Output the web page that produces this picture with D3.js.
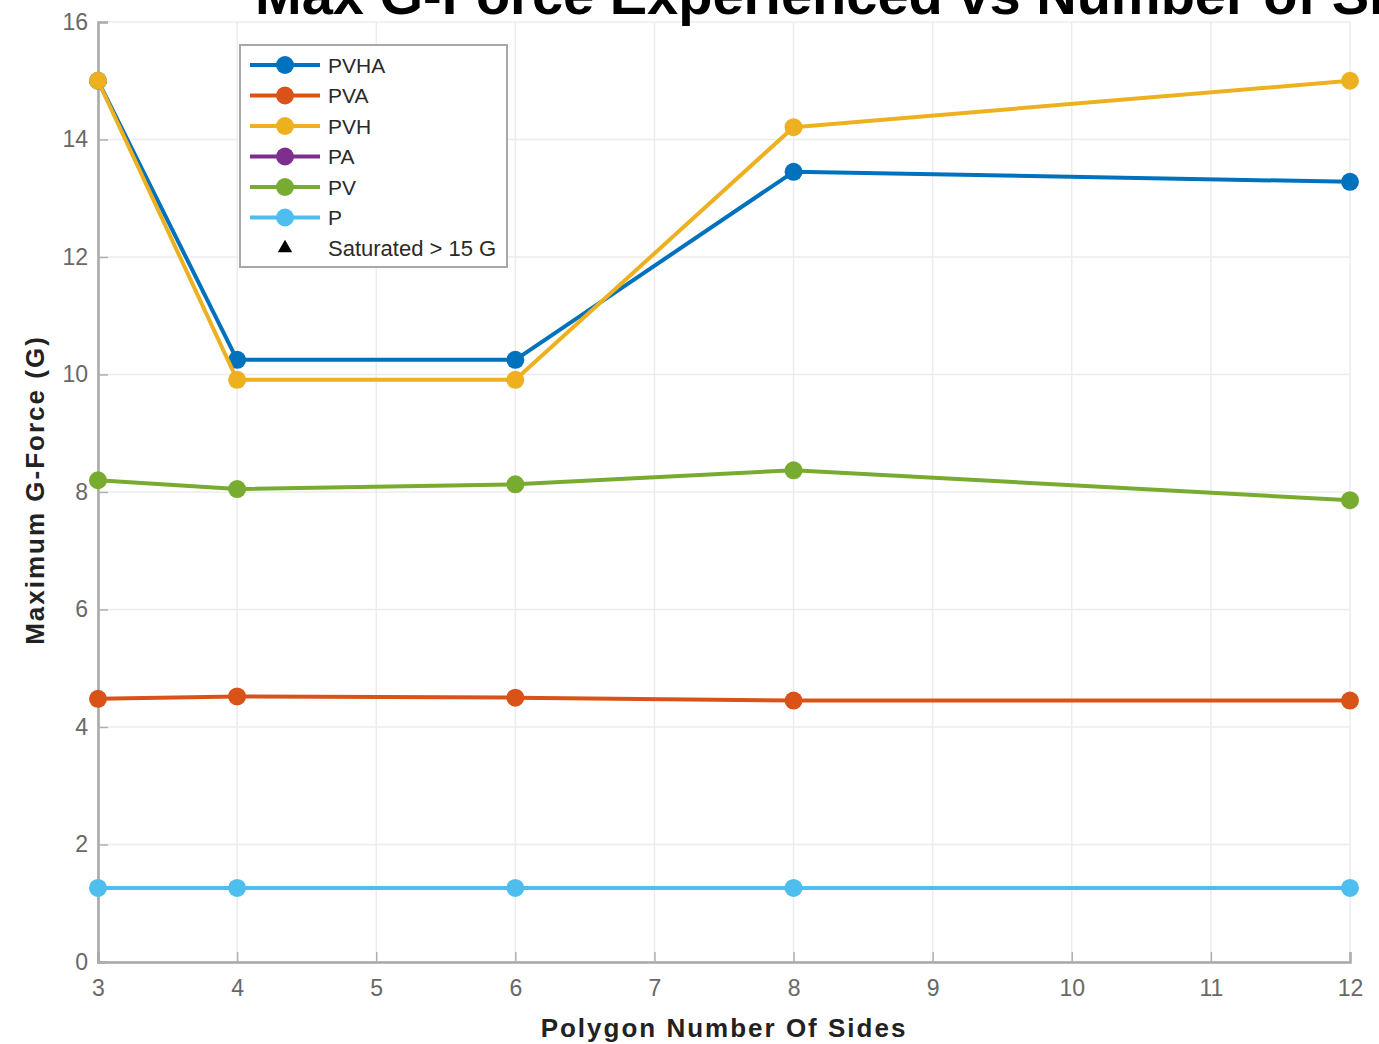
<!DOCTYPE html>
<html><head><meta charset="utf-8">
<script src="https://cdn.jsdelivr.net/npm/d3@7"></script>
<style>body{margin:0;background:#fff;} svg{display:block;}</style>
</head><body>
<svg id="chart" width="1379" height="1044"></svg>
<script>
const sides = [3, 4, 6, 8, 12];
const seriesNames = ["PVHA", "PVA", "PVH", "PA", "PV", "P"];
const seriesColors = ["#0072BD", "#D95319", "#EDB120", "#7E2F8E", "#77AC30", "#4DBEEE"];
const PVHA = [15.0, 10.25, 10.25, 13.45, 13.28];
const PVA  = [4.48, 4.52, 4.50, 4.45, 4.45];
const PVH  = [15.0, 9.91, 9.91, 14.21, 15.0];
const PA   = [];
const PV   = [8.20, 8.05, 8.13, 8.37, 7.86];
const P    = [1.26, 1.26, 1.26, 1.26, 1.26];
const seriesValues = [PVHA, PVA, PVH, PA, PV, P];
const xTicks = [3, 4, 5, 6, 7, 8, 9, 10, 11, 12];
const yTicks = [0, 2, 4, 6, 8, 10, 12, 14, 16];
const titleText = "Max G-Force Experienced vs Number of Sides";
const xLabel = "Polygon Number Of Sides";
const yLabel = "Maximum G-Force (G)";
const saturatedLabel = "Saturated > 15 G";

const svg = d3.select("#chart");
const m = {left: 98, right: 1379 - 1350, top: 22, bottom: 1044 - 962};
const W = 1379, H = 1044;
const x = d3.scaleLinear().domain([3, 12]).range([m.left, W - m.right]);
const y = d3.scaleLinear().domain([0, 16]).range([H - m.bottom, m.top]);

// grid
const grid = svg.append("g");
grid.selectAll("line.v").data(xTicks).join("line")
  .attr("x1", d => x(d)).attr("x2", d => x(d))
  .attr("y1", y(0)).attr("y2", y(16))
  .attr("stroke", "#ececec").attr("stroke-width", 1.5);
grid.selectAll("line.h").data(yTicks).join("line")
  .attr("y1", d => y(d)).attr("y2", d => y(d))
  .attr("x1", x(3)).attr("x2", x(12))
  .attr("stroke", "#ececec").attr("stroke-width", 1.5);

// axes
const xAxis = d3.axisBottom(x).tickValues(xTicks).tickSize(-10).tickPadding(18).tickFormat(d3.format("d"));
const yAxis = d3.axisLeft(y).tickValues(yTicks).tickSize(-10).tickPadding(10).tickFormat(d3.format("d"));
const gx = svg.append("g").attr("transform", `translate(0,${y(0)})`).call(xAxis);
const gy = svg.append("g").attr("transform", `translate(${x(3)},0)`).call(yAxis);
[gx, gy].forEach(g => {
  g.select(".domain").attr("stroke", "#a8a8a8").attr("stroke-width", 2.5);
  g.selectAll(".tick line").attr("stroke", "#b0b0b0").attr("stroke-width", 1.5);
  g.selectAll(".tick text").attr("fill", "#686868")
    .style("font-family", "'Liberation Sans', Arial, sans-serif").style("font-size", "23px");
});
gx.selectAll(".tick text").attr("dy", "0.71em");

// lines
const line = d3.line().x((d, i) => x(sides[i])).y(d => y(d));
seriesValues.forEach((vals, k) => {
  const g = svg.append("g");
  if (vals.length) {
    g.append("path").datum(vals).attr("d", line)
      .attr("fill", "none").attr("stroke", seriesColors[k]).attr("stroke-width", 4)
      .attr("stroke-linejoin", "round");
    g.selectAll("circle").data(vals).join("circle")
      .attr("cx", (d, i) => x(sides[i])).attr("cy", d => y(d)).attr("r", 9)
      .attr("fill", seriesColors[k]);
  }
});

// legend
const lg = svg.append("g");
const lx = 240, ly = 45, lw = 267, lh = 222;
lg.append("rect").attr("x", lx).attr("y", ly).attr("width", lw).attr("height", lh)
  .attr("fill", "#fff").attr("stroke", "#a8a8a8").attr("stroke-width", 2);
const rowY = i => 65 + i * 30.5;
seriesNames.forEach((name, i) => {
  lg.append("line").attr("x1", 250).attr("x2", 320).attr("y1", rowY(i)).attr("y2", rowY(i))
    .attr("stroke", seriesColors[i]).attr("stroke-width", 4);
  lg.append("circle").attr("cx", 285).attr("cy", rowY(i)).attr("r", 9).attr("fill", seriesColors[i]);
  lg.append("text").attr("x", 328).attr("y", rowY(i)).attr("dy", "0.36em")
    .text(name).attr("fill", "#2a2a2a")
    .style("font-family", "'Liberation Sans', Arial, sans-serif").style("font-size", "21px");
});
const ty = rowY(6);
lg.append("path").attr("d", d3.symbol(d3.symbolTriangle, 90)())
  .attr("transform", `translate(285,${ty})`).attr("fill", "#000");
lg.append("text").attr("x", 328).attr("y", ty).attr("dy", "0.36em").text(saturatedLabel)
  .attr("fill", "#2a2a2a")
  .style("font-family", "'Liberation Sans', Arial, sans-serif").style("font-size", "22px");

// title & labels
svg.append("text").attr("x", 255).attr("y", 14).text(titleText)
  .attr("fill", "#000").style("font-family", "'Liberation Sans', Arial, sans-serif")
  .style("font-weight", "bold").style("font-size", "56px");
svg.append("text").attr("x", (x(3) + x(12)) / 2).attr("y", 1037).attr("text-anchor", "middle")
  .text(xLabel).attr("fill", "#222").style("font-family", "'Liberation Sans', Arial, sans-serif")
  .style("font-weight", "bold").style("font-size", "26px").style("letter-spacing", "2px");
svg.append("text").attr("transform", `translate(44,490) rotate(-90)`).attr("text-anchor", "middle")
  .text(yLabel).attr("fill", "#222").style("font-family", "'Liberation Sans', Arial, sans-serif")
  .style("font-weight", "bold").style("font-size", "26px").style("letter-spacing", "2px");
</script>
</body></html>
